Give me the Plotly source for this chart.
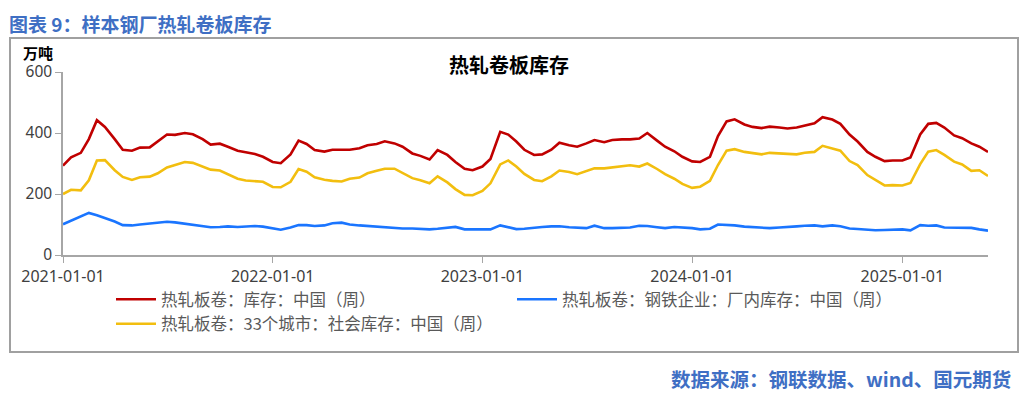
import plotly.graph_objects as go

# ---------------- data ----------------
dates = [
    "2021-01-01", "2021-01-15", "2021-02-01", "2021-02-15", "2021-03-01", "2021-03-15",
    "2021-04-01", "2021-04-15", "2021-05-01", "2021-05-15", "2021-06-01", "2021-06-15",
    "2021-07-01", "2021-07-15", "2021-08-01", "2021-08-15", "2021-09-01", "2021-09-15",
    "2021-10-01", "2021-10-15", "2021-11-01", "2021-11-15", "2021-12-01", "2021-12-15",
    "2022-01-01", "2022-01-15", "2022-02-01", "2022-02-15", "2022-03-01", "2022-03-15",
    "2022-04-01", "2022-04-15", "2022-05-01", "2022-05-15", "2022-06-01", "2022-06-15",
    "2022-07-01", "2022-07-15", "2022-08-01", "2022-08-15", "2022-09-01", "2022-09-15",
    "2022-10-01", "2022-10-15", "2022-11-01", "2022-11-15", "2022-12-01", "2022-12-15",
    "2023-01-01", "2023-01-15", "2023-02-01", "2023-02-15", "2023-03-01", "2023-03-15",
    "2023-04-01", "2023-04-15", "2023-05-01", "2023-05-15", "2023-06-01", "2023-06-15",
    "2023-07-01", "2023-07-15", "2023-08-01", "2023-08-15", "2023-09-01", "2023-09-15",
    "2023-10-01", "2023-10-15", "2023-11-01", "2023-11-15", "2023-12-01", "2023-12-15",
    "2024-01-01", "2024-01-15", "2024-02-01", "2024-02-15", "2024-03-01", "2024-03-15",
    "2024-04-01", "2024-04-15", "2024-05-01", "2024-05-15", "2024-06-01", "2024-06-15",
    "2024-07-01", "2024-07-15", "2024-08-01", "2024-08-15", "2024-09-01", "2024-09-15",
    "2024-10-01", "2024-10-15", "2024-11-01", "2024-11-15", "2024-12-01", "2024-12-15",
    "2025-01-01", "2025-01-15", "2025-02-01", "2025-02-15", "2025-03-01", "2025-03-15",
    "2025-04-01", "2025-04-15", "2025-05-01", "2025-05-15", "2025-05-30",
]

total_stock = [  # 热轧板卷：库存：中国（周）
    293, 320, 335, 380, 442, 420, 380, 345, 342, 352, 353, 372,
    395, 394, 400, 396, 380, 362, 365, 355, 342, 337, 331, 322,
    305, 301, 330, 375, 364, 344, 339, 345, 345, 345, 350, 360,
    364, 373, 366, 355, 333, 325, 313, 344, 328, 305, 283, 278,
    290, 315, 404, 395, 372, 345, 328, 330, 345, 368, 360, 355,
    366, 377, 370, 377, 379, 379, 382, 400, 375, 355, 340, 322,
    307, 305, 322, 390, 438, 445, 428, 420, 416, 421, 418, 415,
    418, 424, 432, 452, 444, 430, 395, 372, 338, 322, 308, 310,
    310, 320, 395, 430, 433, 418, 392, 383, 366, 355, 338,
]

mill_stock = [  # 热轧板卷：钢铁企业：厂内库存：中国（周）
    101, 112, 126, 138, 130, 122, 110, 98, 97, 100, 103, 106,
    109, 107, 103, 99, 94, 91, 92, 94, 92, 93, 95, 93,
    88, 83, 90, 98, 98, 95, 97, 104, 106, 100, 97, 95,
    95, 93, 89, 87, 87, 85, 84, 86, 88, 92, 84, 84,
    84, 84, 97, 90, 85, 86, 90, 92, 94, 94, 91, 89,
    88, 96, 88, 88, 89, 90, 96, 95, 91, 88, 92, 91,
    88, 84, 86, 100, 99, 97, 93, 92, 91, 88, 90, 93,
    94, 96, 97, 94, 97, 94, 87, 85, 82, 81, 82, 83,
    84, 81, 98, 96, 97, 90, 89, 89, 89, 84, 80,
]

social_stock = [  # 热轧板卷：33个城市：社会库存：中国（周）
    200, 214, 212, 245, 310, 311, 278, 256, 246, 255, 257, 268,
    287, 295, 305, 302, 290, 280, 277, 265, 250, 244, 243, 240,
    223, 222, 240, 282, 273, 255, 247, 243, 241, 250, 254, 268,
    276, 283, 283, 270, 252, 245, 235, 258, 238, 216, 197, 196,
    210, 235, 297, 310, 290, 266, 246, 242, 258, 277, 272, 265,
    275, 284, 284, 287, 291, 294, 290, 300, 282, 265, 250, 233,
    220, 224, 243, 295, 342, 347, 338, 335, 330, 335, 333, 330,
    330, 335, 338, 358, 350, 342, 308, 295, 262, 246, 228, 229,
    228, 236, 298, 339, 344, 328, 306, 297, 276, 278, 259,
]

series_names = [
    "热轧板卷：库存：中国（周）",
    "热轧板卷：钢铁企业：厂内库存：中国（周）",
    "热轧板卷：33个城市：社会库存：中国（周）",
]
series_colors = ["#C00000", "#1A75FF", "#F2BE0F"]

x_tick_vals = ["2021-01-01", "2022-01-01", "2023-01-01", "2024-01-01", "2025-01-01"]
x_tick_text = ["2021-01-01", "2022-01-01", "2023-01-01", "2024-01-01", "2025-01-01"]
y_tick_vals = [0, 200, 400, 600]

header_title = "图表 9：样本钢厂热轧卷板库存"
chart_title = "热轧卷板库存"
unit_label = "万吨"
source_text = "数据来源：钢联数据、wind、国元期货"

# ---------------- figure ----------------
# the page body has an 8px margin, so the figure is 8px smaller than the window
W, H = 1020, 388
L, R, T, B = 55, 40, 64, 141
pw, ph = W - L - R, H - T - B
PLOT_LEFT_PAGE, PLOT_BOTTOM_PAGE = 63, 255   # page pixels of the plot origin

def px_x(p):
    return (p - PLOT_LEFT_PAGE) / pw

def px_y(p):
    return (PLOT_BOTTOM_PAGE - p) / ph

CJK = "Noto Sans CJK SC"
XTICKFONT = dict(family="Noto Sans, " + CJK, size=16, color="#404040")
YTICKFONT = dict(family="Noto Sans, " + CJK, size=15.5, color="#404040")

fig = go.Figure()
for name, vals, col in zip(series_names, [total_stock, mill_stock, social_stock], series_colors):
    fig.add_trace(go.Scatter(
        x=dates, y=vals, mode="lines", name=name,
        line=dict(color=col, width=2.6),
    ))

fig.update_layout(
    width=W, height=H,
    margin=dict(l=L, r=R, t=T, b=B, pad=0),
    paper_bgcolor="white", plot_bgcolor="white",
    showlegend=True,
    legend=dict(
        orientation="h",
        x=px_x(111), y=px_y(282), xanchor="left", yanchor="top",
        entrywidth=346, entrywidthmode="pixels",
        font=dict(family=CJK, size=16.5, color="#595959"),
        bgcolor="rgba(0,0,0,0)", traceorder="normal",
        itemwidth=40,
    ),
    xaxis=dict(
        type="date",
        range=["2021-01-01", "2025-05-30"],
        tickvals=x_tick_vals, ticktext=x_tick_text,
        showgrid=False, zeroline=False,
        showline=True, linecolor="#A6A6A6", linewidth=1.5,
        ticks="outside", ticklen=6, tickcolor="#A6A6A6", tickwidth=1,
        tickfont=XTICKFONT,
    ),
    yaxis=dict(
        range=[0, 600], tickvals=y_tick_vals,
        showgrid=False, zeroline=False,
        showline=True, linecolor="#A6A6A6", linewidth=1.5,
        ticks="outside", ticklen=6, tickcolor="#A6A6A6", tickwidth=1,
        tickfont=YTICKFONT,
    ),
)

# outer frame
fig.add_shape(type="rect", xref="paper", yref="paper",
              x0=px_x(10), x1=px_x(1018), y0=px_y(352), y1=px_y(38),
              line=dict(color="#A0A0A0", width=2), fillcolor="rgba(0,0,0,0)", layer="below")

annos = [
    dict(text="<b>" + header_title + "</b>", x=px_x(7), y=px_y(8), xanchor="left", yanchor="top",
         font=dict(family=CJK, size=19, color="#3F6FC4")),
    dict(text="<b>" + chart_title + "</b>", x=px_x(509), y=px_y(65), xanchor="center", yanchor="middle",
         font=dict(family=CJK, size=20, color="#000000")),
    dict(text="<b>" + unit_label + "</b>", x=px_x(21), y=px_y(52), xanchor="left", yanchor="middle",
         font=dict(family=CJK, size=15, color="#000000")),
    dict(text="<b>" + source_text + "</b>", x=px_x(1013), y=px_y(378), xanchor="right", yanchor="middle",
         font=dict(family=CJK, size=19.5, color="#3F6FC4")),
]
for a in annos:
    fig.add_annotation(xref="paper", yref="paper", showarrow=False, **a)

fig.write_html("out.html")
